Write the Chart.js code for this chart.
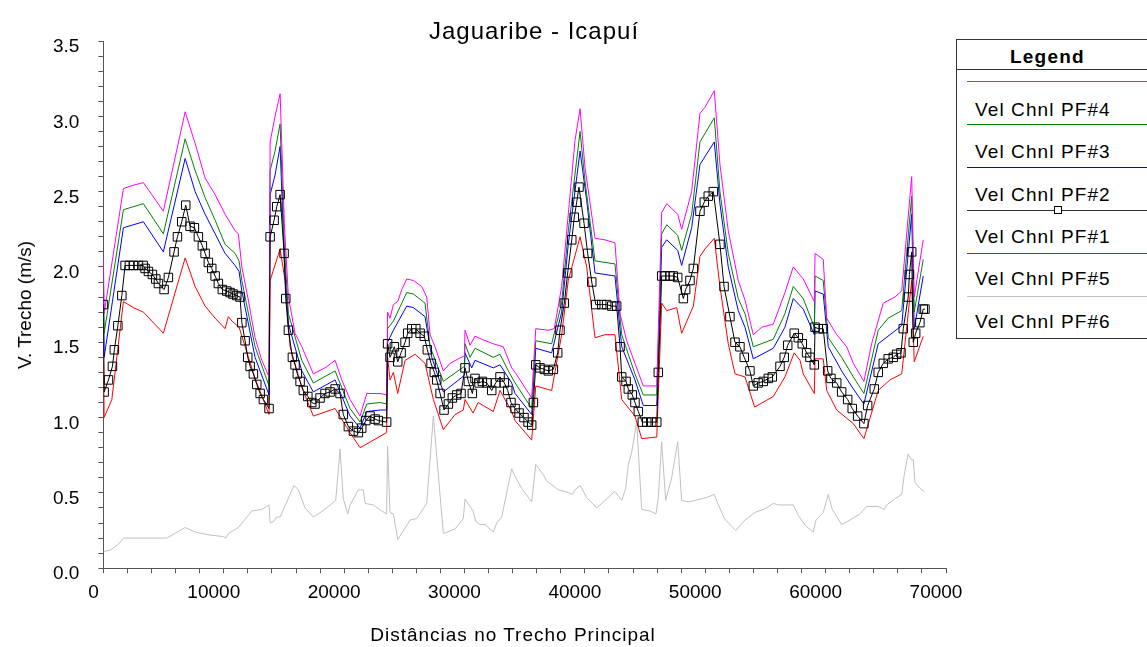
<!DOCTYPE html>
<html>
<head>
<meta charset="utf-8">
<title>Jaguaribe - Icapuí</title>
<script src="https://cdn.jsdelivr.net/npm/chart.js@4.4.1/dist/chart.umd.min.js"></script>
<style>
  html, body { margin: 0; padding: 0; background: #fff; overflow: hidden; }
  #wrap { position: relative; width: 1147px; height: 647px; font-family: Arial, "Liberation Sans", sans-serif; color: #000; }
  #chartBox { position: absolute; left: 0; top: 0; width: 1147px; height: 647px; }
  .caption { position: absolute; white-space: nowrap; transform: translate(-50%, -50%); }
  #title { left: 534px; top: 31px; font-size: 24px; letter-spacing: 1px; }
  #xTitle { left: 513px; top: 635px; font-size: 19px; letter-spacing: 1px; }
  #yTitle { left: 25px; top: 305px; font-size: 19px; transform: translate(-50%, -50%) rotate(-90deg); }
  #legend { position: absolute; left: 956px; top: 39px; width: 420px; height: 300px; border: 1px solid #333; box-sizing: border-box; background: #fff; }
  #legend .head { position: absolute; left: 53px; top: 5px; line-height: 24px; font-size: 19px; font-weight: bold; letter-spacing: 1.2px; }
  #legend .rule { position: absolute; left: 0; right: 0; top: 29px; height: 1px; background: #333; }
  #legend .sample { position: absolute; left: 10px; right: 0; height: 0; border-top: 1px solid; }
  #legend .mark { position: absolute; width: 8px; height: 8px; border: 1px solid #000; background: #fff; box-sizing: border-box; }
  #legend .name { position: absolute; left: 18px; line-height: 24px; font-size: 19px; letter-spacing: 1.1px; white-space: nowrap; }
</style>
</head>
<body>
<div id="wrap">
  <div id="chartBox"><canvas id="velChart"></canvas></div>
  <div class="caption" id="title">Jaguaribe - Icapuí</div>
  <div class="caption" id="xTitle">Distâncias no Trecho Principal</div>
  <div class="caption" id="yTitle">V. Trecho (m/s)</div>
  <div id="legend">
    <div class="head">Legend</div>
    <div class="rule"></div>
  </div>
</div>
<script>
// distance along the main reach (m) and channel velocity (m/s)
const velPF4 = [
  [0,2.06],[60,1.69],[1660,2.52],[2360,2.54],[3320,2.56],[4980,2.37],[6790,3.03],[7620,2.82],[8450,2.59],[9280,2.48],
  [10110,2.35],[10940,2.24],[11210,2.22],[11500,2.00],[12040,1.78],[12600,1.53],[13160,1.38],[13760,1.27],[13850,2.83],[14260,3.00],
  [14680,3.15],[15030,2.29],[15370,1.80],[15920,1.56],[16480,1.47],[17440,1.29],[18410,1.33],[19250,1.38],[19800,1.25],[20490,1.12],
  [21320,1.01],[21880,1.16],[22980,1.16],[23530,1.15],[23610,1.70],[23810,1.66],[24090,1.75],[24450,1.77],[24790,1.85],[25200,1.92],
  [25750,1.91],[26450,1.87],[26860,1.80],[27140,1.55],[27550,1.47],[28240,1.31],[28800,1.36],[29490,1.39],[29990,1.41],[30040,1.58],
  [30460,1.48],[30870,1.54],[31430,1.52],[32390,1.49],[33220,1.47],[33920,1.33],[34200,1.30],[35580,1.13],[35920,1.59],[36960,1.58],
  [37460,1.59],[38070,1.87],[38620,2.35],[39180,2.84],[39600,3.05],[40010,2.66],[40840,2.19],[41670,2.18],[42500,2.16],[42920,1.69],
  [43470,1.51],[44160,1.36],[44850,1.21],[45820,1.21],[45970,1.21],[46380,2.36],[46800,2.42],[47710,2.35],[48040,2.25],[48870,2.50],
  [49560,3.02],[49980,3.06],[50750,3.17],[51220,2.68],[51910,2.24],[52740,1.91],[53300,1.78],[53990,1.55],[54690,1.60],[55650,1.62],
  [56620,1.83],[57310,2.00],[58140,1.92],[59060,1.77],[59120,2.09],[59800,2.05],[60090,1.66],[60920,1.55],[61750,1.47],[62300,1.36],
  [63180,1.24],[63820,1.49],[64790,1.76],[65760,1.80],[66320,1.84],[67150,2.60],[67360,1.80],[68110,2.18]
];

const velPF3 = [
  [0,1.94],[60,1.56],[1660,2.38],[3320,2.42],[4980,2.22],[6790,2.85],[7620,2.64],[8450,2.46],[9280,2.31],[10110,2.15],
  [10940,2.09],[11270,2.04],[11500,1.91],[12600,1.47],[13760,1.21],[13850,2.64],[14260,2.77],[14680,2.95],[15030,2.14],[15370,1.69],
  [16480,1.38],[17440,1.23],[19250,1.31],[20490,1.06],[21320,0.97],[21880,1.09],[22980,1.10],[23530,1.09],[23610,1.59],[24090,1.64],
  [25200,1.83],[25750,1.82],[26720,1.76],[27140,1.47],[28240,1.24],[29990,1.34],[30040,1.49],[30460,1.40],[30870,1.46],[32390,1.40],
  [32950,1.42],[33640,1.31],[34200,1.23],[35580,1.06],[35920,1.51],[37240,1.49],[38070,1.76],[38620,2.24],[39600,2.90],[40010,2.57],
  [40840,2.04],[42500,2.02],[43060,1.55],[44160,1.29],[44850,1.15],[45970,1.15],[46380,2.22],[46800,2.28],[47710,2.21],[48040,2.11],
  [48870,2.35],[49560,2.83],[50750,2.99],[51220,2.50],[51910,2.09],[52740,1.79],[53300,1.69],[53990,1.47],[55650,1.52],[56620,1.69],
  [57310,1.87],[58140,1.79],[59060,1.60],[59120,1.94],[59800,1.91],[60220,1.53],[61330,1.40],[62300,1.27],[63180,1.16],[64370,1.58],
  [65200,1.66],[66320,1.71],[67150,2.47],[67360,1.70],[68110,2.05]
];

const velPF2 = [
  [0,1.84],[60,1.40],[1660,2.26],[3320,2.30],[4980,2.10],[6790,2.72],[7620,2.50],[8450,2.35],[9280,2.22],[10110,2.09],
  [10940,2.01],[11270,1.97],[11500,1.84],[12600,1.40],[13760,1.15],[13850,2.48],[14260,2.61],[14680,2.80],[15030,2.04],[15370,1.62],
  [16480,1.31],[17440,1.17],[19250,1.25],[20490,1.01],[21320,0.93],[21880,1.04],[22980,1.05],[23530,1.05],[23610,1.50],[24090,1.58],
  [25200,1.74],[25750,1.73],[26720,1.67],[27280,1.40],[28240,1.17],[29990,1.28],[30040,1.43],[30600,1.33],[30870,1.38],[32390,1.33],
  [32950,1.35],[33920,1.23],[34200,1.16],[35580,1.02],[35920,1.46],[37240,1.43],[38070,1.70],[38620,2.15],[39600,2.77],[40150,2.44],
  [40840,1.96],[42500,1.94],[43060,1.47],[44160,1.25],[44850,1.08],[45970,1.08],[46380,2.13],[46800,2.18],[47710,2.11],[48040,2.01],
  [48870,2.26],[49560,2.68],[50750,2.83],[51220,2.42],[51910,2.00],[52740,1.71],[53300,1.60],[53990,1.39],[55650,1.46],[56620,1.60],
  [57310,1.79],[58140,1.72],[59060,1.55],[59120,1.84],[59800,1.82],[60220,1.47],[61330,1.31],[62300,1.19],[63180,1.09],[64370,1.49],
  [66320,1.61],[67150,2.35],[67360,1.59],[68110,1.94]
];

const velPF1 = [
  [0,1.75],[60,1.17],[420,1.25],[750,1.34],[910,1.45],[1200,1.61],[1530,1.81],[1800,2.01],[2160,2.01],[2490,2.01],
  [2910,2.01],[3300,2.01],[3460,1.99],[3740,1.97],[4070,1.95],[4350,1.92],[4570,1.89],[5040,1.85],[5400,1.93],[5870,2.10],
  [6150,2.20],[6510,2.30],[6840,2.41],[7200,2.27],[7560,2.26],[7890,2.20],[8220,2.14],[8450,2.09],[8720,2.03],[9000,1.99],
  [9280,1.94],[9550,1.89],[9880,1.85],[10250,1.84],[10520,1.83],[10770,1.82],[11080,1.81],[11350,1.80],[11500,1.63],[11770,1.51],
  [11990,1.40],[12190,1.34],[12460,1.29],[12740,1.22],[13020,1.16],[13290,1.12],[13760,1.06],[13850,2.20],[14180,2.31],[14400,2.40],
  [14680,2.48],[15010,2.09],[15150,1.79],[15370,1.58],[15700,1.40],[15920,1.35],[16110,1.29],[16340,1.24],[16610,1.18],[16980,1.14],
  [17310,1.10],[17580,1.09],[18000,1.13],[18410,1.16],[18830,1.17],[19250,1.19],[19660,1.16],[19930,1.02],[20350,0.94],[20770,0.91],
  [21180,0.90],[21460,0.93],[21800,0.98],[22150,1.01],[22570,0.99],[22840,0.98],[23530,0.97],[23610,1.49],[23810,1.40],[24170,1.47],
  [24450,1.37],[24730,1.43],[25060,1.50],[25280,1.56],[25620,1.59],[25950,1.59],[26310,1.56],[26660,1.54],[26910,1.45],[27220,1.36],
  [27490,1.30],[27690,1.25],[27970,1.16],[28300,1.05],[28660,1.09],[28990,1.13],[29350,1.15],[29710,1.16],[30040,1.33],[30320,1.24],
  [30650,1.16],[30870,1.26],[31210,1.23],[31480,1.24],[31850,1.23],[32260,1.18],[32590,1.23],[32950,1.27],[33310,1.23],[33590,1.18],
  [33860,1.10],[34200,1.06],[34530,1.03],[34940,1.00],[35280,0.97],[35580,0.95],[35720,1.10],[35920,1.35],[36270,1.33],[36630,1.32],
  [36960,1.31],[37380,1.32],[37740,1.43],[37930,1.58],[38290,1.76],[38570,1.96],[38910,2.18],[39120,2.33],[39320,2.43],[39510,2.53],
  [39930,2.29],[40230,2.09],[40570,1.90],[40900,1.75],[41400,1.75],[41810,1.75],[42230,1.74],[42640,1.74],[42920,1.47],[43060,1.27],
  [43420,1.24],[43610,1.19],[43940,1.15],[44160,1.10],[44440,1.04],[44770,0.97],[45140,0.97],[45550,0.97],[45970,0.97],[46100,1.30],
  [46380,1.94],[46660,1.94],[47070,1.94],[47340,1.94],[47710,1.93],[48180,1.79],[48370,1.85],[48730,1.91],[49010,1.99],[49560,2.37],
  [49920,2.43],[50250,2.47],[50670,2.50],[51220,2.15],[51560,1.87],[52050,1.67],[52470,1.50],[52880,1.47],[53240,1.40],[53710,1.31],
  [53990,1.21],[54400,1.23],[54820,1.24],[55240,1.26],[55570,1.27],[56210,1.34],[56560,1.40],[56850,1.48],[57390,1.56],[57730,1.53],
  [58060,1.49],[58420,1.43],[58700,1.40],[59060,1.35],[59120,1.60],[59390,1.59],[59800,1.59],[60170,1.31],[60440,1.26],[60920,1.23],
  [61330,1.17],[61830,1.12],[62210,1.06],[62660,1.01],[63180,0.96],[63490,1.08],[64040,1.19],[64370,1.30],[64790,1.36],[65200,1.39],
  [65620,1.40],[65900,1.42],[66260,1.43],[66450,1.59],[66860,1.80],[66960,1.95],[67150,2.10],[67280,1.50],[67480,1.56],[67830,1.63],
  [68110,1.72],[68250,1.72]
];

const velPF5 = [
  [0,1.49],[60,1.00],[700,1.12],[1660,1.77],[2490,1.73],[3320,1.70],[4980,1.56],[6790,2.06],[7620,1.87],[8450,1.74],
  [9280,1.66],[10110,1.59],[10380,1.67],[10690,1.64],[11270,1.60],[12600,1.26],[13760,1.02],[13850,1.91],[14680,2.12],[15090,1.91],
  [15510,1.47],[16480,1.20],[17440,1.01],[19250,1.06],[20490,0.90],[21320,0.80],[23530,0.90],[23610,1.40],[23810,1.25],[24090,1.30],
  [24450,1.16],[25060,1.38],[25890,1.42],[26720,1.36],[27410,1.12],[28240,0.92],[29210,1.02],[29900,1.05],[30040,1.12],[30710,1.03],
  [31130,1.10],[32390,1.04],[32950,1.18],[33920,1.04],[34200,0.98],[35580,0.85],[35920,1.21],[37240,1.18],[38070,1.55],[38620,1.91],
  [39600,2.20],[40150,2.00],[40840,1.53],[41670,1.55],[42500,1.55],[43060,1.12],[44160,1.01],[44720,0.86],[45820,0.87],[45970,0.87],
  [46380,1.76],[46800,1.71],[47630,1.73],[48040,1.56],[49010,1.74],[49560,2.07],[49980,2.12],[50750,2.19],[51220,1.87],[51910,1.49],
  [52470,1.29],[53300,1.27],[54100,1.07],[55650,1.14],[56620,1.27],[57390,1.43],[57870,1.38],[58140,1.29],[59060,1.16],[59120,1.39],
  [59800,1.39],[60090,1.18],[60920,1.05],[62300,0.96],[63180,0.86],[64370,1.18],[65340,1.25],[66320,1.29],[67150,1.91],[67360,1.37],
  [68110,1.54]
];

const velPF6 = [
  [0,0.11],[560,0.12],[1250,0.16],[1660,0.20],[5270,0.20],[6790,0.27],[7620,0.24],[8860,0.22],[9970,0.21],[10170,0.20],
  [10380,0.23],[11210,0.27],[12330,0.38],[13160,0.39],[13760,0.42],[13850,0.30],[14120,0.31],[14400,0.34],[14680,0.34],[15840,0.55],
  [16200,0.52],[16750,0.40],[17440,0.34],[17860,0.36],[18690,0.41],[19300,0.45],[19660,0.79],[19930,0.46],[20300,0.36],[20490,0.42],
  [21180,0.52],[21600,0.52],[21740,0.43],[22430,0.42],[23120,0.38],[23530,0.36],[23610,0.81],[23810,0.37],[24090,0.36],[24450,0.19],
  [25480,0.32],[26030,0.33],[26860,0.43],[27410,1.01],[28240,0.23],[29210,0.26],[29900,0.33],[30040,0.46],[30710,0.38],[30930,0.31],
  [31290,0.29],[31700,0.29],[32390,0.24],[32680,0.30],[33090,0.34],[33920,0.66],[34200,0.61],[34750,0.53],[35580,0.44],[35920,0.69],
  [36550,0.62],[36830,0.58],[37790,0.52],[38350,0.51],[38960,0.49],[39180,0.52],[39600,0.55],[40150,0.47],[40980,0.40],[42500,0.51],
  [43060,0.45],[43390,0.53],[43610,0.69],[43890,0.77],[44300,0.97],[44720,0.39],[45410,0.38],[45910,0.36],[46100,0.47],[46380,0.84],
  [46710,0.45],[47210,0.60],[47710,0.84],[48040,0.45],[48590,0.44],[49150,0.45],[50120,0.47],[50730,0.49],[51580,0.33],[52530,0.25],
  [53300,0.32],[54130,0.37],[54820,0.39],[55290,0.41],[55650,0.43],[56120,0.42],[57310,0.42],[57730,0.35],[58340,0.28],[58970,0.24],
  [59200,0.32],[59800,0.37],[60220,0.49],[60550,0.39],[61330,0.29],[62020,0.32],[62850,0.36],[63410,0.41],[64370,0.41],[64870,0.39],
  [65070,0.42],[65760,0.46],[66320,0.49],[66530,0.62],[66860,0.76],[67090,0.72],[67280,0.72],[67420,0.57],[67830,0.53],[68170,0.51]
];

// only these ticks carry a label, the others are plain tick marks
const xTickLabels = [0, 10000, 20000, 30000, 40000, 50000, 60000, 70000];
const yTickLabels = ['0.0', '0.5', '1.0', '1.5', '2.0', '2.5', '3.0', '3.5'];

const series = [
  { label: 'Vel Chnl PF#4', points: velPF4, color: '#ff00ff' },
  { label: 'Vel Chnl PF#3', points: velPF3, color: '#008000' },
  { label: 'Vel Chnl PF#2', points: velPF2, color: '#0000ff' },
  { label: 'Vel Chnl PF#1', points: velPF1, color: '#000000', marker: true },
  { label: 'Vel Chnl PF#5', points: velPF5, color: '#ff0000' },
  { label: 'Vel Chnl PF#6', points: velPF6, color: '#c0c0c0' }
];

Chart.defaults.font.family = 'Arial, "Liberation Sans", sans-serif';
Chart.defaults.color = '#000';

const datasets = series.map(s => ({
  label: s.label,
  data: s.points.map(([x, y]) => ({ x, y })),
  borderColor: s.color,
  borderWidth: 1,
  tension: 0,
  pointStyle: 'rect',
  pointRadius: s.marker ? 6 : 0,
  pointBorderColor: s.color,
  pointBorderWidth: 1,
  pointBackgroundColor: 'rgba(0,0,0,0)',
  order: s.marker ? 0 : 1
}));

const axisGray = '#555';

new Chart(document.getElementById('velChart'), {
  type: 'line',
  data: { datasets },
  options: {
    responsive: true,
    maintainAspectRatio: false,
    animation: false,
    events: [],
    layout: { padding: { left: 34, right: 201, top: 41, bottom: 35 } },
    plugins: {
      legend: { display: false },
      title: { display: false },
      tooltip: { enabled: false }
    },
    scales: {
      x: {
        type: 'linear',
        min: 0,
        max: 70000,
        border: { display: true, color: axisGray, width: 1 },
        grid: { drawOnChartArea: false, drawTicks: true, tickLength: 5, tickColor: axisGray },
        ticks: {
          stepSize: 2000,
          autoSkip: false,
          maxRotation: 0,
          padding: 8,
          labelOffset: -10,
          font: { size: 19 },
          callback: v => xTickLabels.includes(Math.round(v)) ? String(Math.round(v)) : ''
        }
      },
      y: {
        min: 0,
        max: 3.5,
        border: { display: true, color: axisGray, width: 1 },
        grid: { drawOnChartArea: false, drawTicks: true, tickLength: 5, tickColor: axisGray },
        ticks: {
          stepSize: 0.1,
          autoSkip: false,
          padding: 19,
          labelOffset: 6,
          font: { size: 19 },
          callback: v => {
            const s = v.toFixed(1);
            return (yTickLabels.includes(s) && Math.abs(v * 2 - Math.round(v * 2)) < 1e-6) ? s : '';
          }
        }
      }
    }
  }
});

// HEC-RAS style legend box: sample line first, then the name under it
const legend = document.getElementById('legend');
series.forEach((s, i) => {
  const lineTop = Math.round(41 + i * 42.9);

  const line = document.createElement('div');
  line.className = 'sample';
  line.style.top = lineTop + 'px';
  line.style.borderTopColor = s.marker ? '#333' : s.color;
  legend.appendChild(line);

  if (s.marker) {
    const mark = document.createElement('div');
    mark.className = 'mark';
    mark.style.left = '97px';
    mark.style.top = (lineTop - 4) + 'px';
    legend.appendChild(mark);
  }

  const name = document.createElement('div');
  name.className = 'name';
  name.style.top = Math.round(70 + i * 42.3 - 12) + 'px';
  name.textContent = s.label;
  legend.appendChild(name);
});
</script>
</body>
</html>
